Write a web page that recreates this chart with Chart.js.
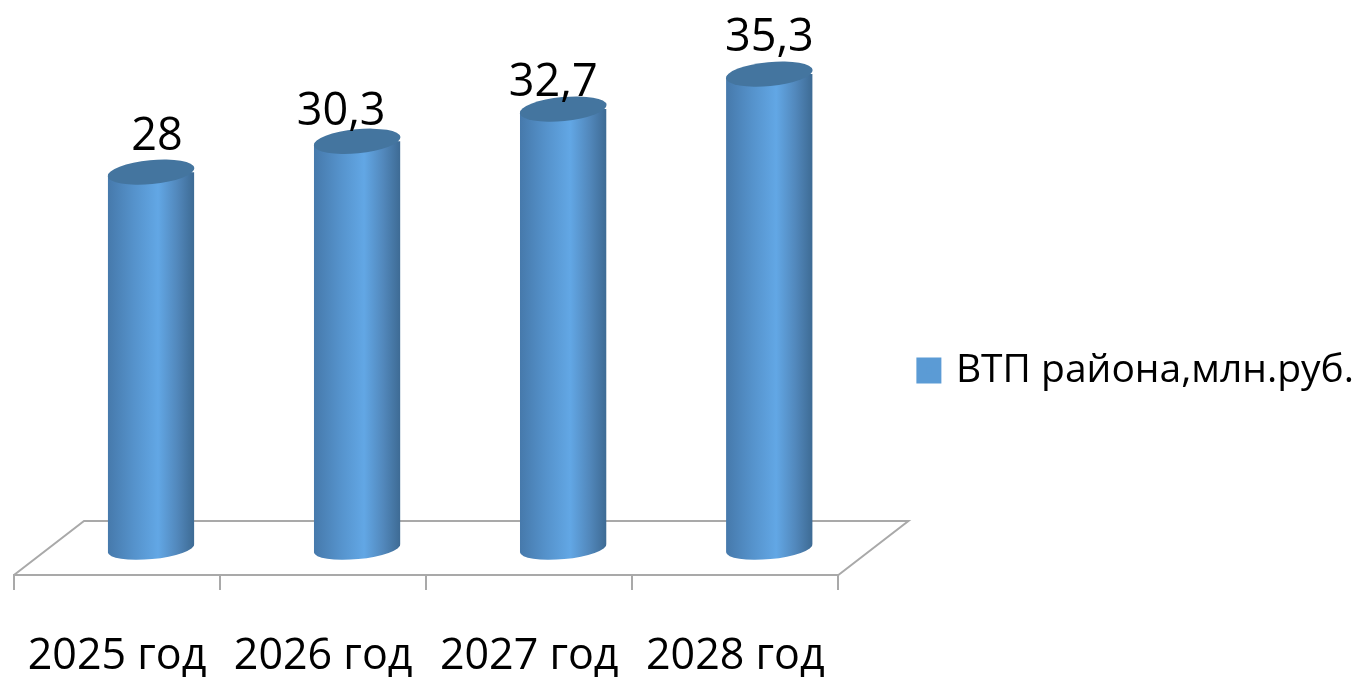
<!DOCTYPE html>
<html><head><meta charset="utf-8">
<style>html,body{margin:0;padding:0;background:#fff;overflow:hidden}canvas{position:absolute;left:0;top:0;display:block}</style>
<script src="https://cdn.jsdelivr.net/npm/chart.js@4"></script>
</head><body><canvas id="c" width="1359" height="677" style="width:1359px;height:677px"></canvas>
<script>
const categories = ['2025 год', '2026 год', '2027 год', '2028 год'];
const seriesName = 'ВТП района,млн.руб.';
const seriesValues = [28, 30.3, 32.7, 35.3];

const RX = 43.5, RY = 11, ROT = -5.5 * Math.PI / 180;
const DEPTH_DX = 70, DEPTH_DY = 54, BAR_SHIFT = 34;
const labelNudge = [[6, -35], [-16, -29], [-10, -26], [0, -36]];

function barGradient(ctx) {
  const chart = ctx.chart;
  if (!chart.scales.x) return '#5b9bd5';
  const cx = chart.scales.x.getPixelForValue(ctx.dataIndex) + BAR_SHIFT;
  const g = chart.ctx.createLinearGradient(cx - RX, 0, cx + RX, 0);
  g.addColorStop(0, '#4679ab');
  g.addColorStop(0.3, '#5592cb');
  g.addColorStop(0.58, '#62a7e5');
  g.addColorStop(0.8, '#5288bc');
  g.addColorStop(1, '#3d6a93');
  return g;
}

const cylinder = {
  id: 'cylinder',
  afterLayout(chart) {
    const l = chart.legend;
    const h = l.bottom - l.top;
    l.top = 351 - l.options.labels.padding;
    l.bottom = l.top + h;
  },
  afterDatasetsUpdate(chart) {
    chart.getDatasetMeta(0).data.forEach((bar) => { bar.x += BAR_SHIFT; });
  },
  beforeDatasetsDraw(chart) {
    const { ctx, chartArea: a } = chart;
    ctx.save();
    ctx.strokeStyle = '#a9a9a9';
    ctx.lineWidth = 2;
    ctx.beginPath();
    ctx.moveTo(a.left, a.bottom);
    ctx.lineTo(a.left + DEPTH_DX, a.bottom - DEPTH_DY);
    ctx.lineTo(a.right + DEPTH_DX, a.bottom - DEPTH_DY);
    ctx.lineTo(a.right, a.bottom);
    ctx.stroke();
    ctx.restore();
    const y = chart.scales.y, c = Math.cos(ROT) * RX, s = Math.sin(ROT) * RX;
    ctx.save();
    ctx.beginPath();
    chart.getDatasetMeta(0).data.forEach((bar) => {
      const top = bar.y, base = y.getPixelForValue(0);
      ctx.moveTo(bar.x - c, top - s);
      ctx.lineTo(bar.x - c, base - s);
      ctx.ellipse(bar.x, base, RX, RY, ROT, Math.PI, 0, true);
      ctx.lineTo(bar.x + c, top + s);
      ctx.ellipse(bar.x, top, RX, RY, ROT, 0, Math.PI, true);
      ctx.closePath();
    });
    ctx.clip();
  },
  afterDatasetsDraw(chart) {
    const { ctx } = chart;
    ctx.restore();
    const values = chart.data.datasets[0].data;
    chart.getDatasetMeta(0).data.forEach((bar, i) => {
      ctx.save();
      ctx.fillStyle = '#44759f';
      ctx.beginPath();
      ctx.ellipse(bar.x, bar.y, RX, RY + 1, ROT, 0, Math.PI * 2);
      ctx.fill();
      ctx.fillStyle = '#000';
      ctx.font = '45px "Open Sans"';
      ctx.textAlign = 'center';
      ctx.textBaseline = 'middle';
      ctx.fillText(String(values[i]).replace('.', ','), bar.x + labelNudge[i][0], bar.y + labelNudge[i][1]);
      ctx.restore();
    });
  }
};

new Chart(document.getElementById('c'), {
  type: 'bar',
  data: {
    labels: categories,
    datasets: [{
      label: seriesName,
      data: seriesValues,
      base: -1,
      backgroundColor: barGradient,
      borderWidth: 0,
      barPercentage: 0.42,
      categoryPercentage: 1,
      clip: false
    }]
  },
  options: {
    responsive: false,
    animation: false,
    devicePixelRatio: 1,
    events: [],
    layout: { padding: { left: 14, top: 11, right: -5, bottom: 0 } },
    scales: {
      x: {
        afterFit(axis) { axis.height = 102; axis.paddingLeft = 0; axis.paddingRight = 0; },
        border: { display: true, color: '#a9a9a9', width: 2 },
        grid: { display: true, offset: true, drawOnChartArea: false, drawTicks: true, tickLength: 15, color: '#a9a9a9', lineWidth: 2 },
        ticks: { color: '#000', font: { family: '"Open Sans"', size: 43 }, padding: 41, maxRotation: 0, autoSkip: false }
      },
      y: { display: false, min: -2, max: 40 }
    },
    plugins: {
      tooltip: { enabled: false },
      legend: {
        position: 'right',
        align: 'start',
        labels: {
          color: '#000',
          font: { family: '"Open Sans"', size: 39 },
          boxWidth: 15, boxHeight: 16,
          padding: 83,
          generateLabels() {
            return [{ text: seriesName, fillStyle: '#5b9bd5', strokeStyle: '#5b9bd5', lineWidth: 10, fontColor: '#000' }];
          }
        }
      }
    }
  },
  plugins: [cylinder]
});
</script>
</body></html>
